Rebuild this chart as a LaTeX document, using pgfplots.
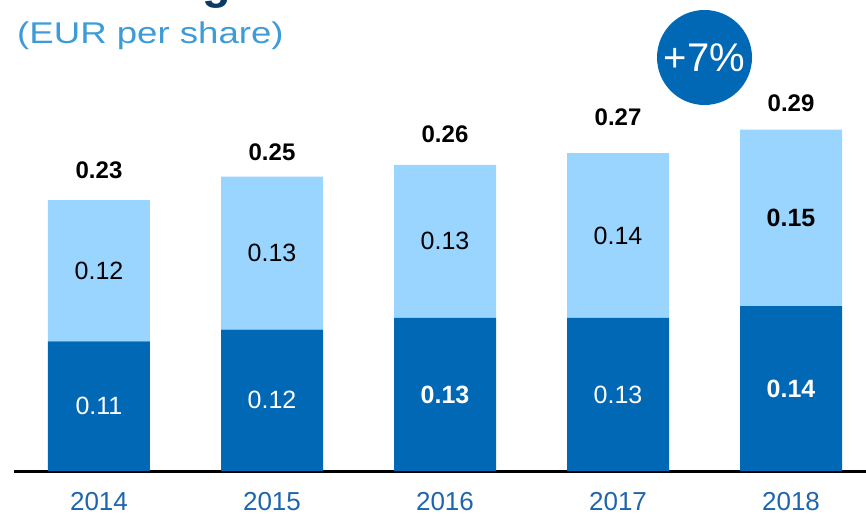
\documentclass[border=0pt]{standalone}
\usepackage{pgfplots}
\pgfplotsset{compat=1.18}
\usepackage{fontspec}
\setmainfont{Liberation Sans}
\usepackage{xcolor}
\definecolor{darkbar}{HTML}{0068B4}
\definecolor{lightbar}{HTML}{99D5FF}
\definecolor{yearblue}{HTML}{1F65AE}
\definecolor{subblue}{HTML}{3D9BD9}
\definecolor{navy}{HTML}{0B3A66}
\newcommand\fs[1]{\fontsize{#1}{#1}\selectfont}

\begin{document}
\begin{tikzpicture}
\path[use as bounding box, clip] (0pt,0pt) rectangle (866pt,516pt);

% cut-off headline (only its last descender shows) and subtitle
\node[anchor=base east, inner sep=0, text=navy, font=\fs{47}\bfseries] at (231pt,517.5pt) {g};
\node[anchor=west, inner sep=0, text=subblue, font=\fs{30}, xscale=1.22] at (17pt,480pt) {(EUR per share)};

\begin{axis}[
  at={(14pt,45pt)}, anchor=south west,
  scale only axis, width=852pt, height=471pt,
  ybar stacked, bar width=102pt,
  xmin=-0.4913, xmax=4.4335, ymin=0, ymax=0.4,
  axis x line=bottom, axis y line=none,
  axis line style={-, line width=3pt, black},
  xtick={0,1,2,3,4},
  xticklabels={2014,2015,2016,2017,2018},
  major tick length=0pt,
  xticklabel style={text=yearblue, font=\fs{26}, yshift=-18pt},
  ytick=\empty,
  clip=false,
]
\addplot[fill=darkbar, draw=none] coordinates {(0,0.11) (1,0.12) (2,0.13) (3,0.13) (4,0.14)};
\addplot[fill=lightbar, draw=none] coordinates {(0,0.12) (1,0.13) (2,0.13) (3,0.14) (4,0.15)};

% label anchors (segment middles and totals)
\coordinate (d0) at (axis cs:0,0.055);
\coordinate (d1) at (axis cs:1,0.060);
\coordinate (d2) at (axis cs:2,0.065);
\coordinate (d3) at (axis cs:3,0.065);
\coordinate (d4) at (axis cs:4,0.070);
\coordinate (l0) at (axis cs:0,0.170);
\coordinate (l1) at (axis cs:1,0.185);
\coordinate (l2) at (axis cs:2,0.195);
\coordinate (l3) at (axis cs:3,0.200);
\coordinate (l4) at (axis cs:4,0.215);
\coordinate (t0) at (axis cs:0,0.2556);
\coordinate (t1) at (axis cs:1,0.2709);
\coordinate (t2) at (axis cs:2,0.2862);
\coordinate (t3) at (axis cs:3,0.3006);
\coordinate (t4) at (axis cs:4,0.3125);
\end{axis}

\node[text=white, font=\fs{25}] at (d0) {0.11};
\node[text=white, font=\fs{25}] at (d1) {0.12};
\node[text=white, font=\fs{25}\bfseries] at (d2) {0.13};
\node[text=white, font=\fs{25}] at (d3) {0.13};
\node[text=white, font=\fs{25}\bfseries] at (d4) {0.14};
\node[text=black, font=\fs{25}] at (l0) {0.12};
\node[text=black, font=\fs{25}] at (l1) {0.13};
\node[text=black, font=\fs{25}] at (l2) {0.13};
\node[text=black, font=\fs{25}] at (l3) {0.14};
\node[text=black, font=\fs{25}\bfseries] at (l4) {0.15};
\node[text=black, font=\fs{24}\bfseries] at (t0) {0.23};
\node[text=black, font=\fs{24}\bfseries] at (t1) {0.25};
\node[text=black, font=\fs{24}\bfseries] at (t2) {0.26};
\node[text=black, font=\fs{24}\bfseries] at (t3) {0.27};
\node[text=black, font=\fs{24}\bfseries] at (t4) {0.29};

% growth badge
\fill[darkbar] (704.5pt,458.5pt) circle (47.5pt);
\node[text=white, font=\fs{40}, inner sep=0] at (704.5pt,458.5pt) {+7\%};
\end{tikzpicture}
\end{document}
